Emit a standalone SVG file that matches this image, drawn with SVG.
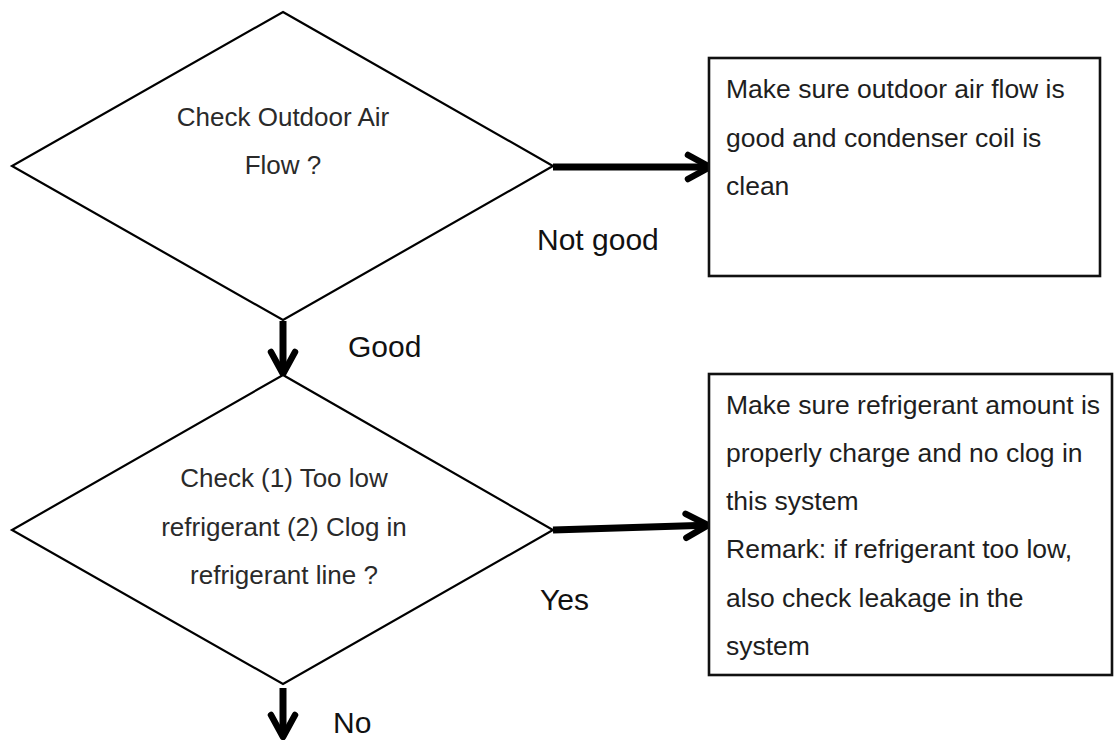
<svg xmlns="http://www.w3.org/2000/svg" width="1115" height="740" viewBox="0 0 1115 740">
<style>
.shape{fill:#fff;stroke:#000;stroke-width:2.2}
.box{fill:#fff;stroke:#111;stroke-width:2.6}
.dtext{font-family:"Liberation Sans",Arial,sans-serif;font-size:26px;fill:#2a2a2a;text-anchor:middle}
.btext{font-family:"Liberation Sans",Arial,sans-serif;font-size:26.5px;fill:#1e1e1e}
.label{font-family:"Liberation Sans",Arial,sans-serif;font-size:30px;fill:#111}
.conn{stroke:#000;stroke-width:7;fill:none;marker-end:url(#chev)}
</style>
<defs>
<marker id="chev" markerUnits="userSpaceOnUse" markerWidth="40" markerHeight="40" refX="0" refY="0" orient="auto" overflow="visible">
<path d="M -19 -12 L 3 0 L -19 12" fill="none" stroke="#000" stroke-width="6.5" stroke-linecap="round" stroke-linejoin="round"/>
</marker>
</defs>
<rect width="1115" height="740" fill="#fff"/>
<g id="connectors">
<line class="conn" x1="553" y1="167" x2="707" y2="167"/>
<line class="conn" x1="283" y1="321" x2="283" y2="371"/>
<line class="conn" x1="553" y1="530" x2="705" y2="525.2"/>
<line class="conn" x1="283" y1="688" x2="283" y2="734"/>
</g>
<g id="labels">
<text class="label" x="537" y="250">Not good</text>
<text class="label" x="348" y="357">Good</text>
<text class="label" x="540" y="610">Yes</text>
<text class="label" x="333" y="733">No</text>
</g>
<g id="decision1">
<polygon class="shape" points="283,12 553,166 283,320 12,166"/>
<text class="dtext" x="283" y="126">Check Outdoor Air</text>
<text class="dtext" x="283" y="174">Flow ?</text>
</g>
<g id="action1">
<rect class="box" x="709" y="58" width="391" height="218"/>
<text class="btext" x="726" y="98">Make sure outdoor air flow is</text>
<text class="btext" x="726" y="146.5">good and condenser coil is</text>
<text class="btext" x="726" y="195">clean</text>
</g>
<g id="decision2">
<polygon class="shape" points="283,375 553,530 283,684 12,530"/>
<text class="dtext" x="284" y="487">Check (1) Too low</text>
<text class="dtext" x="284" y="536">refrigerant (2) Clog in</text>
<text class="dtext" x="284" y="584">refrigerant line ?</text>
</g>
<g id="action2">
<rect class="box" x="709" y="374" width="403" height="301"/>
<text class="btext" x="726" y="414">Make sure refrigerant amount is</text>
<text class="btext" x="726" y="462">properly charge and no clog in</text>
<text class="btext" x="726" y="510">this system</text>
<text class="btext" x="726" y="558">Remark: if refrigerant too low,</text>
<text class="btext" x="726" y="607">also check leakage in the</text>
<text class="btext" x="726" y="655">system</text>
</g>
</svg>
